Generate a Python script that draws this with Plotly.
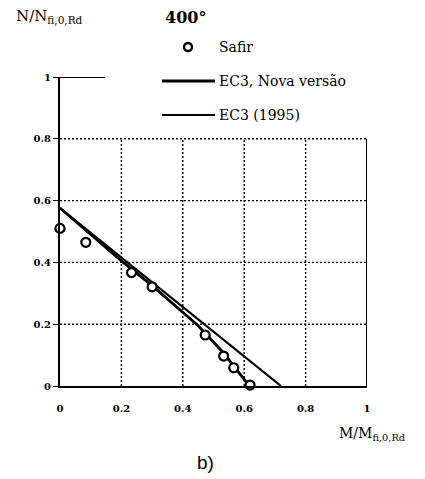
import plotly.graph_objects as go

# Interaction diagram at 400°: N/N_fi,0,Rd versus M/M_fi,0,Rd
safir_m = [0.0, 0.084, 0.233, 0.30, 0.473, 0.533, 0.566, 0.619]
safir_n = [0.51, 0.465, 0.367, 0.321, 0.165, 0.097, 0.059, 0.003]

ec3_nova_m = [0.0, 0.20, 0.30, 0.45, 0.53, 0.617]
ec3_nova_n = [0.576, 0.405, 0.325, 0.195, 0.11, 0.0]

ec3_1995_m = [0.0, 0.72]
ec3_1995_n = [0.576, 0.0]

x_ticks = [0, 0.2, 0.4, 0.6, 0.8, 1]
x_tick_text = ["<b>0</b>", "<b>0.2</b>", "<b>0.4</b>", "<b>0.6</b>", "<b>0.8</b>", "<b>1</b>"]
y_ticks = [0, 0.2, 0.4, 0.6, 0.8, 1]
y_tick_text = ["<b>0</b>", "<b>0.2</b>", "<b>0.4</b>", "<b>0.6</b>", "<b>0.8</b>", "<b>1</b>"]
grid_x = [0.2, 0.4, 0.6, 0.8]
grid_y = [0.2, 0.4, 0.6, 0.8]
grid_top = 0.8

SERIF = "DejaVu Serif"
W, H = 425, 479
L, R, T, B = 60, 58, 77, 93
pw, ph = W - L - R, H - T - B


def px(xp):
    return (xp - L) / pw


def py(yp):
    return (H - B - yp) / ph


fig = go.Figure()

fig.add_trace(go.Scatter(x=ec3_1995_m, y=ec3_1995_n, mode="lines",
                         line=dict(color="black", width=2.2), cliponaxis=False,
                         showlegend=False))
fig.add_trace(go.Scatter(x=ec3_nova_m, y=ec3_nova_n, mode="lines",
                         line=dict(color="black", width=2.8), cliponaxis=False,
                         showlegend=False))
fig.add_trace(go.Scatter(x=safir_m, y=safir_n, mode="markers",
                         marker=dict(symbol="circle", size=9, color="white",
                                     line=dict(color="black", width=2.2)),
                         cliponaxis=False, showlegend=False))

shapes = []
dot = dict(color="black", width=1.4, dash="2px,2px")
for gx in grid_x:
    shapes.append(dict(type="line", xref="x", yref="y", x0=gx, x1=gx, y0=0, y1=grid_top,
                       line=dot, layer="below"))
for gy in grid_y:
    shapes.append(dict(type="line", xref="x", yref="y", x0=0, x1=1, y0=gy, y1=gy,
                       line=dot, layer="below"))
# right frame edge and the short cap at N = 1
shapes.append(dict(type="line", xref="x", yref="y", x0=1, x1=1, y0=0, y1=grid_top,
                   line=dict(color="black", width=2)))
shapes.append(dict(type="line", xref="x", yref="y", x0=0, x1=0.146, y0=1, y1=1,
                   line=dict(color="black", width=2)))

# legend symbols
shapes.append(dict(type="circle", xref="paper", yref="paper",
                   xsizemode="pixel", ysizemode="pixel",
                   xanchor=px(188), yanchor=py(47), x0=-4, x1=4, y0=-4, y1=4,
                   line=dict(color="black", width=2.4), fillcolor="white"))
shapes.append(dict(type="line", xref="paper", yref="paper", x0=px(162), x1=px(215),
                   y0=py(81), y1=py(81), line=dict(color="black", width=2.8)))
shapes.append(dict(type="line", xref="paper", yref="paper", x0=px(162), x1=px(215),
                   y0=py(115), y1=py(115), line=dict(color="black", width=2)))

ann = []


def text(s, xp, yp, size, xanchor="left", family=SERIF):
    ann.append(dict(text=s, x=px(xp), y=py(yp), xref="paper", yref="paper",
                    xanchor=xanchor, yanchor="middle", showarrow=False,
                    font=dict(family=family, size=size, color="black")))


text("N/N<sub>fi,0,Rd</sub>", 14, 16, 15)
text("<b>400°</b>", 163, 17, 16)
text("Safir", 217, 47, 14)
text("EC3, Nova versão", 217, 81, 14)
text("EC3 (1995)", 217, 115, 14)
text("M/M<sub>fi,0,Rd</sub>", 337, 434, 14)
text("b)", 205, 462, 19, xanchor="center", family="Liberation Sans")

fig.update_layout(
    width=W, height=H,
    margin=dict(l=L, r=R, t=T, b=B, autoexpand=False),
    paper_bgcolor="white", plot_bgcolor="white",
    shapes=shapes, annotations=ann,
    xaxis=dict(range=[0, 1], tickvals=x_ticks, ticktext=x_tick_text,
               showgrid=False, zeroline=False, showline=True, linecolor="black",
               linewidth=2, ticks="", ticklabelstandoff=12,
               tickfont=dict(family=SERIF, size=10, color="black")),
    yaxis=dict(range=[0, 1], tickvals=y_ticks, ticktext=y_tick_text,
               showgrid=False, zeroline=False, showline=True, linecolor="black",
               linewidth=2, ticks="outside", ticklen=5, tickwidth=1,
               tickcolor="black",
               tickfont=dict(family=SERIF, size=10, color="black")),
)

fig.write_html("out.html")
